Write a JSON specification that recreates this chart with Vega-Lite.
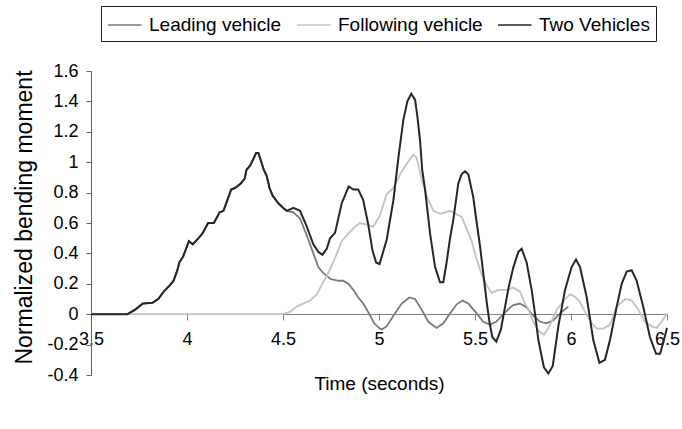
{
  "$schema": "https://vega.github.io/schema/vega-lite/v6.json",
  "width": 576,
  "height": 304,
  "autosize": {"type": "none"},
  "padding": {"left": 91, "top": 71, "right": 15, "bottom": 54},
  "background": "white",
  "config": {
    "font": "Liberation Sans",
    "view": {"stroke": null},
    "axis": {"grid": false, "labelColor": "black", "titleColor": "black", "titleFontWeight": "normal", "labelFontSize": 18, "titleFontSize": 19},
    "legend": {"orient": "none", "legendX": 10, "legendY": -65, "direction": "horizontal", "strokeColor": "#222", "padding": 6, "symbolType": "M-1,0H1.8", "symbolSize": 576, "symbolStrokeWidth": 1.5, "labelFontSize": 19, "labelColor": "black", "labelOffset": 16, "columnPadding": 12, "labelLimit": 300, "title": null}
  },
  "datasets": {
    "lead": [
      {"t":3.5,"v":0},{"t":3.69,"v":0},{"t":3.73,"v":0.03},{"t":3.77,"v":0.07},{"t":3.82,"v":0.075},{"t":3.85,"v":0.1},{"t":3.88,"v":0.15},{"t":3.91,"v":0.19},{"t":3.93,"v":0.22},{"t":3.95,"v":0.29},{"t":3.96,"v":0.34},{"t":3.98,"v":0.38},{"t":4.01,"v":0.48},{"t":4.03,"v":0.46},{"t":4.06,"v":0.5},{"t":4.08,"v":0.53},{"t":4.11,"v":0.6},{"t":4.14,"v":0.6},{"t":4.17,"v":0.67},{"t":4.19,"v":0.68},{"t":4.21,"v":0.75},{"t":4.23,"v":0.82},{"t":4.25,"v":0.83},{"t":4.28,"v":0.86},{"t":4.3,"v":0.89},{"t":4.31,"v":0.95},{"t":4.33,"v":0.98},{"t":4.36,"v":1.06},{"t":4.372,"v":1.06},{"t":4.39,"v":0.99},{"t":4.4,"v":0.95},{"t":4.415,"v":0.91},{"t":4.43,"v":0.83},{"t":4.446,"v":0.78},{"t":4.476,"v":0.73},{"t":4.5,"v":0.7},{"t":4.52,"v":0.68},
      {"t":4.554,"v":0.67},{"t":4.589,"v":0.63},{"t":4.623,"v":0.52},{"t":4.658,"v":0.4},{"t":4.684,"v":0.31},{"t":4.71,"v":0.27},{"t":4.75,"v":0.23},{"t":4.79,"v":0.22},{"t":4.814,"v":0.22},{"t":4.84,"v":0.2},{"t":4.866,"v":0.16},{"t":4.892,"v":0.11},{"t":4.918,"v":0.07},{"t":4.95,"v":0.0},{"t":4.975,"v":-0.06},{"t":5.0,"v":-0.09},{"t":5.014,"v":-0.1},{"t":5.04,"v":-0.08},{"t":5.075,"v":-0.01},{"t":5.118,"v":0.07},{"t":5.158,"v":0.11},{"t":5.188,"v":0.1},{"t":5.222,"v":0.03},{"t":5.257,"v":-0.05},{"t":5.3,"v":-0.09},{"t":5.335,"v":-0.06},{"t":5.37,"v":0.005},{"t":5.405,"v":0.065},{"t":5.435,"v":0.09},{"t":5.465,"v":0.07},{"t":5.509,"v":0.005},{"t":5.543,"v":-0.05},{"t":5.578,"v":-0.07},{"t":5.61,"v":-0.05},{"t":5.648,"v":0.0},{"t":5.68,"v":0.04},{"t":5.7,"v":0.06},{"t":5.734,"v":0.07},{"t":5.769,"v":0.045},{"t":5.804,"v":-0.01},{"t":5.839,"v":-0.05},{"t":5.873,"v":-0.06},{"t":5.908,"v":-0.04},{"t":5.943,"v":0.005},{"t":5.986,"v":0.05}
    ],
    "follow": [
      {"t":3.5,"v":0},{"t":4.5,"v":0},{"t":4.536,"v":0.015},{"t":4.571,"v":0.05},{"t":4.605,"v":0.07},{"t":4.641,"v":0.09},{"t":4.676,"v":0.13},{"t":4.7,"v":0.19},{"t":4.736,"v":0.27},{"t":4.771,"v":0.37},{"t":4.806,"v":0.48},{"t":4.84,"v":0.53},{"t":4.87,"v":0.57},{"t":4.9,"v":0.6},{"t":4.936,"v":0.59},{"t":4.97,"v":0.575},{"t":5.005,"v":0.65},{"t":5.04,"v":0.79},{"t":5.075,"v":0.83},{"t":5.11,"v":0.92},{"t":5.144,"v":0.99},{"t":5.179,"v":1.05},{"t":5.196,"v":1.03},{"t":5.222,"v":0.89},{"t":5.248,"v":0.78},{"t":5.283,"v":0.68},{"t":5.318,"v":0.66},{"t":5.345,"v":0.67},{"t":5.37,"v":0.68},{"t":5.4,"v":0.66},{"t":5.431,"v":0.64},{"t":5.457,"v":0.56},{"t":5.483,"v":0.48},{"t":5.509,"v":0.36},{"t":5.535,"v":0.26},{"t":5.561,"v":0.19},{"t":5.587,"v":0.14},{"t":5.622,"v":0.16},{"t":5.665,"v":0.16},{"t":5.7,"v":0.175},{"t":5.734,"v":0.15},{"t":5.76,"v":0.07},{"t":5.78,"v":0.03},{"t":5.804,"v":-0.05},{"t":5.83,"v":-0.11},{"t":5.86,"v":-0.135},{"t":5.891,"v":-0.07},{"t":5.926,"v":0.03},{"t":5.969,"v":0.1},{"t":5.995,"v":0.13},{"t":6.021,"v":0.115},{"t":6.047,"v":0.08},{"t":6.073,"v":0.015},{"t":6.108,"v":-0.06},{"t":6.134,"v":-0.095},{"t":6.168,"v":-0.095},{"t":6.203,"v":-0.07},{"t":6.238,"v":0.05},{"t":6.264,"v":0.08},{"t":6.286,"v":0.1},{"t":6.316,"v":0.09},{"t":6.351,"v":0.03},{"t":6.385,"v":-0.05},{"t":6.42,"v":-0.08},{"t":6.446,"v":-0.09},{"t":6.472,"v":-0.05},{"t":6.5,"v":0.005}
    ],
    "two": [
      {"t":3.5,"v":0},{"t":3.69,"v":0},{"t":3.73,"v":0.03},{"t":3.77,"v":0.07},{"t":3.82,"v":0.075},{"t":3.85,"v":0.1},{"t":3.88,"v":0.15},{"t":3.91,"v":0.19},{"t":3.93,"v":0.22},{"t":3.95,"v":0.29},{"t":3.96,"v":0.34},{"t":3.98,"v":0.38},{"t":4.01,"v":0.48},{"t":4.03,"v":0.46},{"t":4.06,"v":0.5},{"t":4.08,"v":0.53},{"t":4.11,"v":0.6},{"t":4.14,"v":0.6},{"t":4.17,"v":0.67},{"t":4.19,"v":0.68},{"t":4.21,"v":0.75},{"t":4.23,"v":0.82},{"t":4.25,"v":0.83},{"t":4.28,"v":0.86},{"t":4.3,"v":0.89},{"t":4.31,"v":0.95},{"t":4.33,"v":0.98},{"t":4.36,"v":1.06},{"t":4.372,"v":1.06},{"t":4.39,"v":0.99},{"t":4.4,"v":0.95},{"t":4.415,"v":0.91},{"t":4.43,"v":0.83},{"t":4.446,"v":0.78},{"t":4.476,"v":0.73},{"t":4.5,"v":0.7},{"t":4.52,"v":0.68},
      {"t":4.554,"v":0.7},{"t":4.589,"v":0.68},{"t":4.623,"v":0.58},{"t":4.658,"v":0.46},{"t":4.684,"v":0.41},{"t":4.705,"v":0.39},{"t":4.728,"v":0.43},{"t":4.745,"v":0.5},{"t":4.771,"v":0.535},{"t":4.806,"v":0.73},{"t":4.842,"v":0.84},{"t":4.866,"v":0.82},{"t":4.892,"v":0.82},{"t":4.918,"v":0.75},{"t":4.944,"v":0.59},{"t":4.966,"v":0.42},{"t":4.985,"v":0.34},{"t":5.003,"v":0.33},{"t":5.04,"v":0.49},{"t":5.075,"v":0.75},{"t":5.101,"v":1.03},{"t":5.127,"v":1.28},{"t":5.148,"v":1.4},{"t":5.168,"v":1.45},{"t":5.188,"v":1.41},{"t":5.2,"v":1.3},{"t":5.214,"v":1.14},{"t":5.225,"v":0.95},{"t":5.24,"v":0.82},{"t":5.266,"v":0.53},{"t":5.292,"v":0.31},{"t":5.318,"v":0.21},{"t":5.335,"v":0.21},{"t":5.352,"v":0.34},{"t":5.37,"v":0.5},{"t":5.387,"v":0.62},{"t":5.413,"v":0.86},{"t":5.43,"v":0.92},{"t":5.448,"v":0.94},{"t":5.465,"v":0.92},{"t":5.491,"v":0.77},{"t":5.509,"v":0.6},{"t":5.526,"v":0.45},{"t":5.545,"v":0.25},{"t":5.561,"v":0.08},{"t":5.575,"v":-0.05},{"t":5.59,"v":-0.15},{"t":5.611,"v":-0.18},{"t":5.635,"v":-0.1},{"t":5.674,"v":0.17},{"t":5.7,"v":0.31},{"t":5.726,"v":0.41},{"t":5.743,"v":0.43},{"t":5.769,"v":0.34},{"t":5.795,"v":0.16},{"t":5.813,"v":0.0},{"t":5.83,"v":-0.17},{"t":5.859,"v":-0.35},{"t":5.882,"v":-0.39},{"t":5.905,"v":-0.34},{"t":5.934,"v":-0.08},{"t":5.969,"v":0.16},{"t":6.003,"v":0.31},{"t":6.026,"v":0.36},{"t":6.047,"v":0.31},{"t":6.082,"v":0.11},{"t":6.116,"v":-0.17},{"t":6.148,"v":-0.32},{"t":6.177,"v":-0.3},{"t":6.203,"v":-0.17},{"t":6.238,"v":0.05},{"t":6.264,"v":0.2},{"t":6.29,"v":0.28},{"t":6.316,"v":0.29},{"t":6.342,"v":0.22},{"t":6.376,"v":0.05},{"t":6.411,"v":-0.15},{"t":6.443,"v":-0.26},{"t":6.464,"v":-0.26},{"t":6.484,"v":-0.17},{"t":6.5,"v":-0.09}
    ]
  },
  "encoding": {
    "x": {"field": "t", "type": "quantitative", "scale": {"domain": [3.5, 6.5], "nice": false, "zero": false},
      "axis": {"title": "Time (seconds)", "offset": -61, "values": [3.5, 4, 4.5, 5, 5.5, 6, 6.5], "labelExpr": "'' + datum.value", "labelFlush": false, "labelOverlap": false, "domainColor": "#808080", "tickColor": "#808080", "tickSize": 6, "labelPadding": 10, "titlePadding": 26}},
    "y": {"field": "v", "type": "quantitative", "scale": {"domain": [-0.4, 1.6], "nice": false, "zero": false},
      "axis": {"title": "Normalized bending moment", "titleFontSize": 23, "titleY": 146, "values": [-0.4, -0.2, 0, 0.2, 0.4, 0.6, 0.8, 1, 1.2, 1.4, 1.6], "labelExpr": "'' + datum.value", "labelOverlap": false, "domainColor": "#606060", "tickColor": "#606060", "tickSize": 5, "labelPadding": 8, "titlePadding": 10}}
  },
  "layer": [
    {"data": {"name": "lead"}, "mark": {"type": "line", "strokeWidth": 1.8},
      "encoding": {"color": {"datum": "Leading vehicle", "type": "nominal", "scale": {"domain": ["Leading vehicle", "Following vehicle", "Two Vehicles"], "range": ["#7a7a7a", "#c2c2c2", "#262626"]}}}},
    {"data": {"name": "follow"}, "mark": {"type": "line", "strokeWidth": 1.8},
      "encoding": {"color": {"datum": "Following vehicle", "type": "nominal"}}},
    {"data": {"name": "two"}, "mark": {"type": "line", "strokeWidth": 2},
      "encoding": {"color": {"datum": "Two Vehicles", "type": "nominal"}}}
  ]
}
